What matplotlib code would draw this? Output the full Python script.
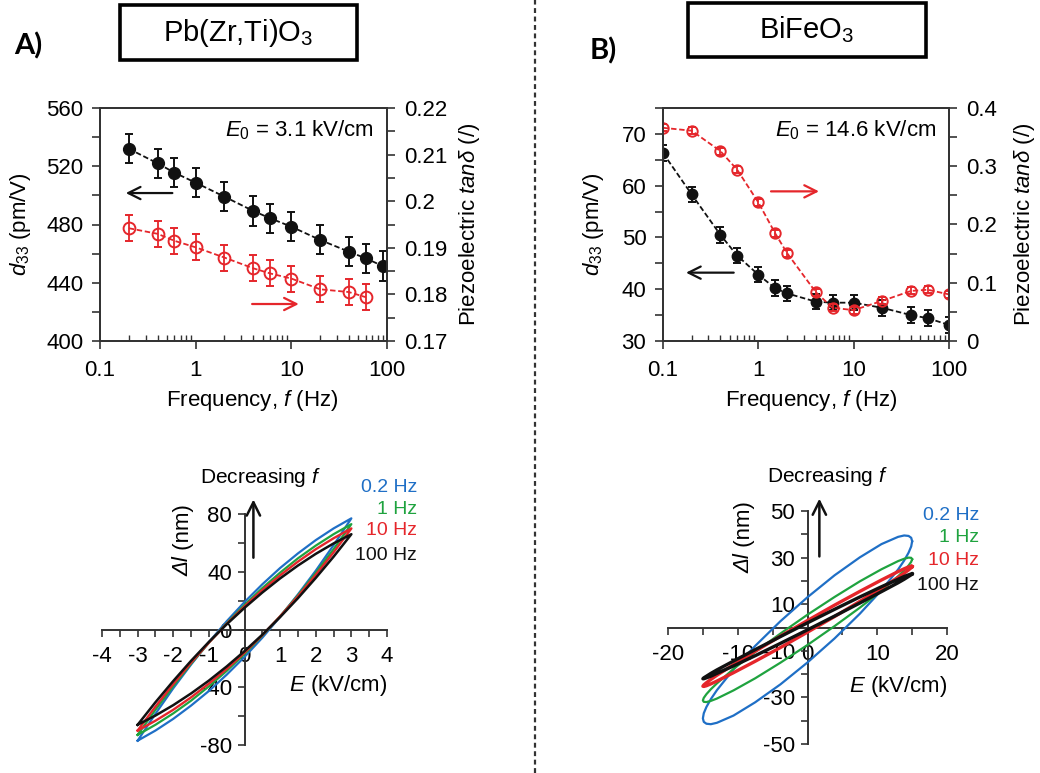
import matplotlib
matplotlib.use("Agg")
import matplotlib.pyplot as plt
from matplotlib.ticker import MultipleLocator, FuncFormatter, NullFormatter, LogLocator
from matplotlib.patches import Rectangle
from matplotlib.lines import Line2D

plt.rcParams["font.family"] = ["Liberation Sans", "DejaVu Sans"]
plt.rcParams["mathtext.fontset"] = "custom"
plt.rcParams["mathtext.rm"] = "Liberation Sans"
plt.rcParams["mathtext.it"] = "Liberation Sans:italic"
plt.rcParams["axes.unicode_minus"] = False

RED = "#e5262b"
BLUE = "#1f6fc6"
GREEN = "#1fa33f"
BLACK = "#111111"
SPINE = "#333333"

# --- A) Pb(Zr,Ti)O3, frequency dependence ---
pzt_f_d33 = [0.2, 0.4, 0.6, 1, 2, 4, 6, 10, 20, 40, 60, 90]
pzt_d33 = [532, 522, 515.6, 508.7, 499.1, 489.3, 484.3, 478.5, 469.4, 461.3, 456.8, 451.5]
pzt_d33_err = 10
pzt_f_tan = [0.2, 0.4, 0.6, 1, 2, 4, 6, 10, 20, 40, 60]
pzt_tan = [0.1942, 0.1930, 0.1915, 0.1901, 0.1879, 0.1856, 0.1845, 0.1834, 0.1811, 0.1805, 0.1794]
pzt_tan_err = 0.0028

# --- B) BiFeO3, frequency dependence ---
bfo_f = [0.1, 0.2, 0.4, 0.6, 1, 1.5, 2, 4, 6, 10, 20, 40, 60, 100]
bfo_d33 = [66.3, 58.3, 50.5, 46.5, 42.8, 40.2, 39.2, 37.6, 37.4, 37.4, 36.4, 35.0, 34.4, 33.1]
bfo_d33_err = 1.5
bfo_tan = [0.366, 0.361, 0.326, 0.294, 0.238, 0.185, 0.151, 0.084, 0.057, 0.053, 0.069, 0.086, 0.088, 0.080]
bfo_tan_err = 0.006

# --- A) strain loops, E in kV/cm, dl in nm (upper branch then lower branch) ---
pzt_E = [-3, -2.5, -2, -1.5, -1, -0.5, 0, 0.5, 1, 1.5, 2, 2.5, 3,
         2.5, 2, 1.5, 1, 0.5, 0, -0.5, -1, -1.5, -2, -2.5, -3]
pzt_loop_02 = [-77, -58.4, -40.7, -24.3, -8.8, 5.7, 19, 31.3, 42.6, 52.7, 61.9, 70.0, 77,
               58.4, 40.7, 24.3, 8.8, -5.7, -19, -31.3, -42.6, -52.7, -61.9, -70.0, -77]
pzt_loop_1 = [-73, -55.6, -39.2, -23.7, -9.2, 4.3, 17, 28.7, 39.4, 49.3, 58.1, 66.0, 73,
              55.6, 39.2, 23.7, 9.2, -4.3, -17, -28.7, -39.4, -49.3, -58.1, -66.0, -73]
pzt_loop_10 = [-70, -53.4, -37.8, -23.0, -9.1, 3.9, 16, 27.3, 37.5, 47.0, 55.6, 63.2, 70,
               53.4, 37.8, 23.0, 9.1, -3.9, -16, -27.3, -37.5, -47.0, -55.6, -63.2, -70]
pzt_loop_100 = [-66, -50.4, -35.7, -21.7, -8.6, 3.6, 15, 25.6, 35.4, 44.3, 52.4, 59.6, 66,
                50.4, 35.7, 21.7, 8.6, -3.6, -15, -25.6, -35.4, -44.3, -52.4, -59.6, -66]

# --- B) strain loops, traced counter-clockwise from the right end ---
bfo_E = [15, 14.87, 14.49, 13.86, 12.99, 10.61, 7.5, 3.88, 0, -3.88, -7.5, -10.61, -12.99,
         -13.86, -14.49, -14.87, -15, -14.87, -14.49, -13.86, -12.99, -10.61, -7.5, -3.88, 0,
         3.88, 7.5, 10.61, 12.99, 13.86, 14.49, 14.87, 15]
bfo_loop_02 = [37.0, 38.5, 39.3, 39.5, 38.9, 35.8, 30.1, 22.4, 13.0, 2.7, -7.9, -18.0, -26.9,
               -30.75, -34.1, -36.8, -39.0, -40.5, -41.3, -41.5, -40.9, -37.8, -32.1, -24.4, -15.0,
               -4.7, 5.9, 16.0, 24.9, 28.75, 32.1, 34.8, 37.0]
bfo_loop_1 = [29.3, 29.9, 30.0, 29.5, 28.5, 25.0, 19.8, 13.1, 5.5, -2.6, -10.5, -17.8, -24.0,
              -26.5, -28.6, -30.2, -31.3, -31.9, -32.0, -31.5, -30.5, -27.0, -21.8, -15.1, -7.5,
              0.6, 8.5, 15.8, 22.0, 24.5, 26.6, 28.2, 29.3]
bfo_loop_10 = [26.2, 26.3, 26.0, 25.2, 24.0, 20.4, 15.5, 9.6, 3.0, -3.7, -10.2, -15.9, -20.5,
               -22.3, -23.7, -24.65, -25.2, -25.3, -25.0, -24.2, -23.0, -19.4, -14.5, -8.6, -2.0,
               4.7, 11.2, 16.9, 21.5, 23.3, 24.7, 25.65, 26.2]
bfo_loop_100 = [23.0, 23.0, 22.6, 21.9, 20.7, 17.5, 13.1, 7.8, 2.0, -3.9, -9.5, -14.4, -18.2,
                -19.7, -20.9, -21.6, -22.0, -22.0, -21.6, -20.9, -19.7, -16.5, -12.1, -6.8, -1.0,
                4.9, 10.5, 15.4, 19.2, 20.7, 21.9, 22.6, 23.0]

loop_labels = ["0.2 Hz", "1 Hz", "10 Hz", "100 Hz"]
loop_colors = [BLUE, GREEN, RED, BLACK]

W, H = 1040, 773
fig = plt.figure(figsize=(W / 100, H / 100), dpi=100)


def px_axes(x0, y0, x1, y1):
    return fig.add_axes([x0 / W, 1 - y1 / H, (x1 - x0) / W, (y1 - y0) / H])


def gfmt(v, pos):
    return f"{round(v, 4):g}"


def freq_panel(rect, f_d, d33, d_err, f_t, tand, t_err, dlim, dmaj, dmin, dticks_top,
               tlim, tmaj, tmin, ms, e0, arr_k, arr_r, ylab_x, y2lab_x, xlab_x):
    ax = px_axes(*rect)
    ax2 = ax.twinx()
    ax.set_xscale("log")
    ax.set_xlim(0.1, 100)
    ax.set_ylim(*dlim)
    ax2.set_ylim(*tlim)

    ax.plot(f_d, d33, ls=(0, (3, 1.5)), color=BLACK, lw=1.3, zorder=2)
    ax.errorbar(f_d, d33, yerr=d_err, fmt="o", color=BLACK, ms=ms, capsize=3.2,
                elinewidth=1.4, capthick=1.4, zorder=3)
    ax2.plot(f_t, tand, ls=(0, (3, 1.5)), color=RED, lw=1.3)
    ax2.errorbar(f_t, tand, yerr=t_err, fmt="o", color=RED, mfc="none", mec=RED, mew=1.4,
                 ms=ms, capsize=3.2, elinewidth=1.3, capthick=1.3)

    ax.yaxis.set_major_locator(MultipleLocator(dmaj))
    ax.yaxis.set_minor_locator(MultipleLocator(dmin))
    ax.set_yticks([v for v in ax.get_yticks() if dlim[0] <= v <= dticks_top])
    ax2.yaxis.set_major_locator(MultipleLocator(tmaj))
    ax2.yaxis.set_minor_locator(MultipleLocator(tmin))
    ax2.yaxis.set_major_formatter(FuncFormatter(gfmt))
    ax.xaxis.set_major_formatter(FuncFormatter(gfmt))
    ax.xaxis.set_minor_locator(LogLocator(subs=range(2, 10)))
    ax.xaxis.set_minor_formatter(NullFormatter())

    for a in (ax, ax2):
        for s in a.spines.values():
            s.set_color(SPINE)
            s.set_linewidth(1.3)
    ax.tick_params(axis="y", which="both", direction="out", length=6, width=1.2,
                   color=SPINE, labelsize=16, pad=6, right=False)
    ax2.tick_params(axis="y", which="both", direction="out", length=6, width=1.2,
                    color=SPINE, labelsize=16, pad=6)
    ax.tick_params(axis="x", which="major", direction="out", length=6, width=1.2,
                   color=SPINE, labelsize=16, pad=8)
    ax.tick_params(axis="x", which="minor", direction="in", length=4, width=1.0, color=SPINE)

    ax.set_ylabel(r"$\mathit{d}_{33}$ (pm/V)", fontsize=16)
    ax.yaxis.set_label_coords(ylab_x, 0.5)
    ax2.set_ylabel(r"Piezoelectric $\mathit{tan\delta}$ (/)", fontsize=16)
    ax2.yaxis.set_label_coords(y2lab_x, 0.5)
    ax.set_xlabel(r"Frequency, $\mathit{f}$ (Hz)", fontsize=16)
    ax.xaxis.set_label_coords(xlab_x, -0.2)

    ax.text(0.955, 0.905, e0, transform=ax.transAxes, ha="right", va="center", fontsize=16)

    ax.annotate("", xy=(arr_k[0], arr_k[2]), xytext=(arr_k[1], arr_k[2]),
                arrowprops=dict(arrowstyle="->", color=BLACK, lw=1.6, mutation_scale=22))
    ax.annotate("", xy=(arr_r[1], arr_r[2]), xytext=(arr_r[0], arr_r[2]),
                arrowprops=dict(arrowstyle="->", color=RED, lw=1.6, mutation_scale=22))
    return ax


def loop_panel(rect, E, loops, lws, xlim, ylim, xmaj, xmin, yticks, ymin_step,
               ylab_xy, xlab_xy, dec_xy, arrow_x, arrow_y, lab_x, lab_y):
    ax = px_axes(*rect)
    for y, c, lw in zip(loops, loop_colors, lws):
        ax.plot(E, y, color=c, lw=lw, zorder=3, solid_joinstyle="round")
    ax.set_xlim(*xlim)
    ax.set_ylim(*ylim)
    ax.spines["left"].set_position(("data", 0))
    ax.spines["bottom"].set_position(("data", 0))
    ax.spines["right"].set_visible(False)
    ax.spines["top"].set_visible(False)
    for s in ("left", "bottom"):
        ax.spines[s].set_color(SPINE)
        ax.spines[s].set_linewidth(1.4)
    ax.xaxis.set_major_locator(MultipleLocator(xmaj))
    ax.xaxis.set_minor_locator(MultipleLocator(xmin))
    ax.set_yticks(yticks)
    ax.yaxis.set_minor_locator(MultipleLocator(ymin_step))
    ax.tick_params(which="both", direction="out", length=5, width=1.2, color=SPINE,
                   labelsize=16)
    ax.tick_params(axis="x", pad=7)
    ax.tick_params(axis="y", pad=4)
    ax.patch.set_visible(False)

    # axis label: italic "Δl" followed by upright "(nm)"
    ax.text(ylab_xy[0], ylab_xy[1], "Δl", rotation=90, ha="center", va="top",
            fontsize=16, style="italic")
    ax.text(ylab_xy[0], ylab_xy[1], " (nm)", rotation=90, ha="center", va="bottom",
            fontsize=16)
    ax.text(xlab_xy[0], xlab_xy[1], r"$\mathit{E}$ (kV/cm)", ha="right", va="center",
            fontsize=16)
    ax.text(dec_xy[0], dec_xy[1], r"Decreasing $\mathit{f}$", ha="center", va="center",
            fontsize=15)
    ax.annotate("", xy=(arrow_x, arrow_y[1]), xytext=(arrow_x, arrow_y[0]),
                arrowprops=dict(arrowstyle="->", color=BLACK, lw=1.8, mutation_scale=24),
                annotation_clip=False)
    for t, c, yy in zip(loop_labels, loop_colors, lab_y):
        ax.text(lab_x, yy, t, color=c, ha="right", va="center", fontsize=14, clip_on=False)
    return ax


# top row
freq_panel((100, 108, 387, 341), pzt_f_d33, pzt_d33, pzt_d33_err, pzt_f_tan, pzt_tan,
           pzt_tan_err, (400, 560), 40, 20, 560, (0.17, 0.22), 0.01, 0.005, 8.5,
           r"$\mathit{E}_{\mathit{0}}$ = 3.1 kV/cm",
           (0.174, 0.61, 501.6), (3.64, 12.8, 425.4), -0.235, 1.245, 0.53)
freq_panel((663, 108, 949, 341), bfo_f, bfo_d33, bfo_d33_err, bfo_f, bfo_tan,
           bfo_tan_err, (30, 75), 10, 5, 70, (0, 0.4), 0.1, 0.05, 7.5,
           r"$\mathit{E}_{\mathit{0}}$ = 14.6 kV/cm",
           (0.163, 0.59, 43.2), (1.27, 4.63, 58.9), -0.2, 1.222, 0.52)

# bottom row
loop_panel((102, 514, 387, 745), pzt_E,
           [pzt_loop_02, pzt_loop_1, pzt_loop_10, pzt_loop_100], [1.6, 1.6, 1.7, 1.8],
           (-4, 4), (-80, 80), 1, 0.5, [-80, -40, 0, 40, 80], 20,
           (-1.72, 51), (4, -39), (0.44, 105), 0.25, (47.8, 92),
           4.85, [98.6, 83.4, 68.3, 51.5])
loop_panel((668, 511, 947, 744), bfo_E,
           [bfo_loop_02, bfo_loop_1, bfo_loop_10, bfo_loop_100], [1.6, 1.6, 2.4, 2.4],
           (-20, 20), (-50, 50), 10, 5, [-50, -30, -10, 10, 30, 50], 10,
           (-9.1, 32), (20, -25.3), (2.8, 64.8), 1.7, (29.3, 56.5),
           24.6, [48, 38.6, 28.9, 18])

# material boxes and panel letters
fig.add_artist(Rectangle((120 / W, 1 - 60 / H), 237 / W, 55 / H, transform=fig.transFigure,
                         fill=False, lw=2.6, ec="k"))
fig.text(238 / W, 1 - 33 / H, r"Pb(Zr,Ti)O$_3$", ha="center", va="center", fontsize=21)
fig.add_artist(Rectangle((688 / W, 1 - 57 / H), 238 / W, 54 / H, transform=fig.transFigure,
                         fill=False, lw=2.6, ec="k"))
fig.text(807 / W, 1 - 30 / H, r"BiFeO$_3$", ha="center", va="center", fontsize=21)
fig.text(28 / W, 1 - 46 / H, "A)", ha="center", va="center", fontsize=21, fontweight="bold",
         family=["Lato", "DejaVu Sans"])
fig.text(603 / W, 1 - 51 / H, "B)", ha="center", va="center", fontsize=21, fontweight="bold",
         family=["Lato", "DejaVu Sans"])

# divider between the two materials
fig.add_artist(Line2D([535 / W, 535 / W], [0, 1], transform=fig.transFigure, color="#333333",
                      lw=1.6, ls=(0, (2.2, 1.6))))

fig.savefig("out.png", dpi=100)
